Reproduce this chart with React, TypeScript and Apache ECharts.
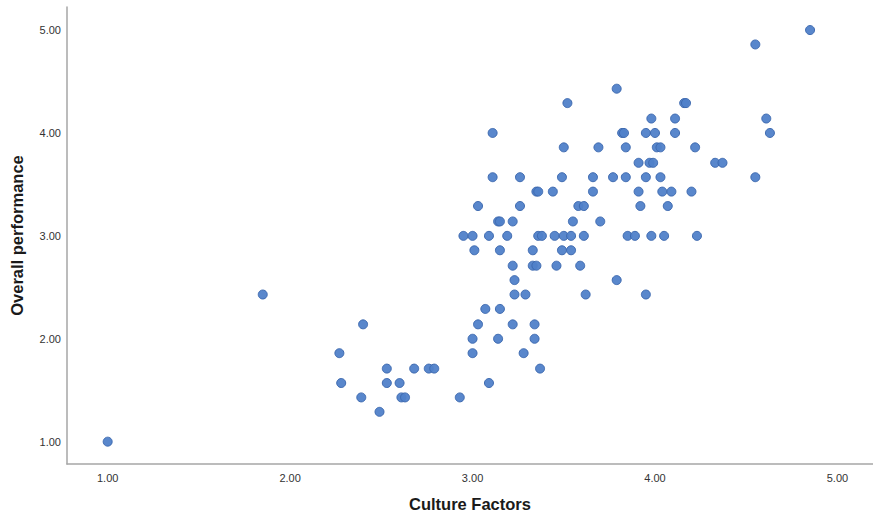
import React, { useEffect, useRef } from "react";
import * as echarts from "echarts";

const cultureFactors: number[] = [
  4.85,
  4.55,
  3.79,
  3.52, 4.16, 4.17,
  3.98, 4.11, 4.61,
  3.11, 3.82, 3.83, 3.95, 4.0, 4.11, 4.63,
  3.5, 3.69, 3.84, 4.01, 4.03, 4.22,
  3.91, 3.97, 3.99, 4.33, 4.37,
  3.11, 3.26, 3.49, 3.66, 3.77, 3.84, 3.95, 4.03, 4.55,
  3.35, 3.36, 3.44, 3.66, 3.91, 4.04, 4.09, 4.2,
  3.03, 3.26, 3.58, 3.61, 3.92, 4.07,
  3.14, 3.15, 3.22, 3.55, 3.7,
  2.95, 3.0, 3.09, 3.19, 3.36, 3.38, 3.45, 3.5, 3.54, 3.61, 3.85, 3.89, 3.98, 4.05, 4.23,
  3.01, 3.15, 3.33, 3.49, 3.54,
  3.22, 3.33, 3.35, 3.46, 3.59,
  3.23, 3.79,
  1.85, 3.23, 3.29, 3.62, 3.95,
  3.07, 3.15,
  2.4, 3.03, 3.22, 3.34,
  3.0, 3.14, 3.34,
  2.27, 3.0, 3.28,
  2.53, 2.68, 2.76, 2.79, 3.37,
  2.28, 2.53, 2.6, 3.09,
  2.39, 2.61, 2.63, 2.93,
  2.49,
  1.0,
];

const overallPerformance: number[] = [
  5.0,
  4.86,
  4.43,
  4.29, 4.29, 4.29,
  4.14, 4.14, 4.14,
  4.0, 4.0, 4.0, 4.0, 4.0, 4.0, 4.0,
  3.86, 3.86, 3.86, 3.86, 3.86, 3.86,
  3.71, 3.71, 3.71, 3.71, 3.71,
  3.57, 3.57, 3.57, 3.57, 3.57, 3.57, 3.57, 3.57, 3.57,
  3.43, 3.43, 3.43, 3.43, 3.43, 3.43, 3.43, 3.43,
  3.29, 3.29, 3.29, 3.29, 3.29, 3.29,
  3.14, 3.14, 3.14, 3.14, 3.14,
  3.0, 3.0, 3.0, 3.0, 3.0, 3.0, 3.0, 3.0, 3.0, 3.0, 3.0, 3.0, 3.0, 3.0, 3.0,
  2.86, 2.86, 2.86, 2.86, 2.86,
  2.71, 2.71, 2.71, 2.71, 2.71,
  2.57, 2.57,
  2.43, 2.43, 2.43, 2.43, 2.43,
  2.29, 2.29,
  2.14, 2.14, 2.14, 2.14,
  2.0, 2.0, 2.0,
  1.86, 1.86, 1.86,
  1.71, 1.71, 1.71, 1.71, 1.71,
  1.57, 1.57, 1.57, 1.57,
  1.43, 1.43, 1.43, 1.43,
  1.29,
  1.0,
];

const tickValues: number[] = [1, 2, 3, 4, 5];
const xAxisTitle = "Culture Factors";
const yAxisTitle = "Overall performance";

export default function App() {
  const ref = useRef<HTMLDivElement>(null);

  useEffect(() => {
    if (!ref.current) return;
    const chart = echarts.init(ref.current, null, { renderer: "svg" });
    const points = cultureFactors.map((x, i) => [x, overallPerformance[i]]);
    const axisCommon = {
      axisLine: { show: true, lineStyle: { color: "#a6a6a6", width: 1.5 } },
      axisTick: { show: false },
      splitLine: { show: false },
      nameLocation: "middle" as const,
      nameTextStyle: {
        fontFamily: "Liberation Sans, Arial, sans-serif",
        fontWeight: "bold" as const,
        fontSize: 16.5,
        color: "#1a1a1a",
      },
    };
    chart.setOption({
      animation: false,
      backgroundColor: "#ffffff",
      grid: { left: 66, right: 0, top: 7, bottom: 53, containLabel: false },
      xAxis: {
        type: "value",
        min: 0.777,
        max: 5.195,
        name: xAxisTitle,
        nameGap: 31,
        ...axisCommon,
        axisLabel: {
          customValues: tickValues,
          formatter: (v: number) => v.toFixed(2),
          fontFamily: "Liberation Sans, Arial, sans-serif",
          fontSize: 11,
          color: "#333333",
          margin: 8,
        },
      },
      yAxis: {
        type: "value",
        min: 0.783,
        max: 5.224,
        name: yAxisTitle,
        nameGap: 42,
        nameRotate: 90,
        ...axisCommon,
        axisLabel: {
          customValues: tickValues,
          formatter: (v: number) => v.toFixed(2),
          fontFamily: "Liberation Sans, Arial, sans-serif",
          fontSize: 11,
          color: "#333333",
          margin: 6,
        },
      },
      series: [
        {
          type: "scatter",
          data: points,
          symbolSize: 9,
          itemStyle: {
            color: "#5081c9",
            borderColor: "#3b67ae",
            borderWidth: 1,
            opacity: 0.95,
          },
        },
      ],
    });
    return () => chart.dispose();
  }, []);

  return (
    <div
      ref={ref}
      style={{ position: "absolute", left: 0, top: 0, width: 873, height: 517 }}
    />
  );
}
